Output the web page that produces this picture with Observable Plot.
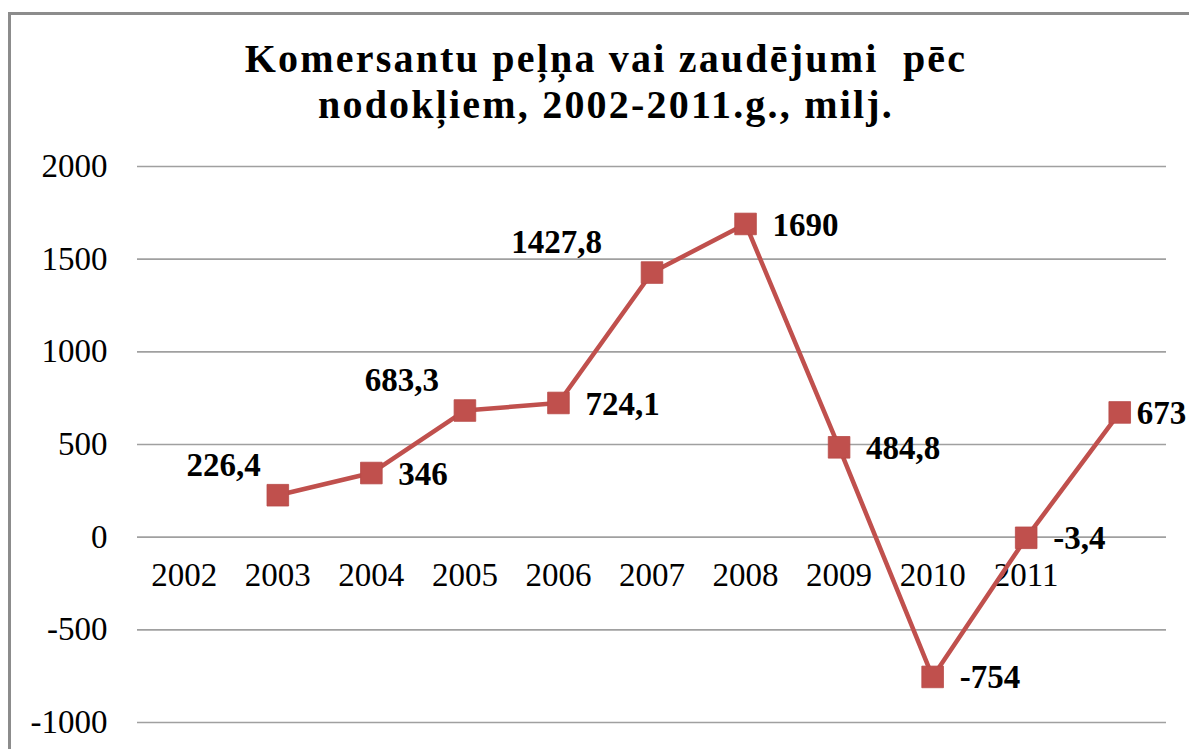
<!DOCTYPE html>
<html>
<head>
<meta charset="utf-8">
<script src="https://cdn.jsdelivr.net/npm/d3@7"></script>
<script src="https://cdn.jsdelivr.net/npm/@observablehq/plot@0.6"></script>
<style>
  html, body { margin: 0; padding: 0; background: #fff; }
  body { width: 1189px; height: 749px; position: relative; overflow: hidden; font-family: "Liberation Serif", "Times New Roman", serif; }
  #frame { position: absolute; left: 8px; top: 12px; width: 1300px; height: 800px; border-left: 3px solid #8c8c8c; border-top: 3px solid #8c8c8c; }
  #title { position: absolute; left: 0; top: 36px; width: 1212px; text-align: center; font-family: "Liberation Serif", serif; font-weight: bold; font-size: 40px; letter-spacing: 2.2px; line-height: 46px; color: #000; white-space: pre; }
  #chart { position: absolute; left: 0; top: 0; }
</style>
</head>
<body>
<div id="frame"></div>
<div id="title">Komersantu peļņa vai zaudējumi  pēc
nodokļiem, 2002-2011.g., milj.</div>
<div id="chart"></div>
<script>
const years = ["2002", "2003", "2004", "2005", "2006", "2007", "2008", "2009", "2010", "2011"];
const values = [226.4, 346, 683.3, 724.1, 1427.8, 1690, 484.8, -754, -3.4, 673];
const yTicks = [-1000, -500, 0, 500, 1000, 1500, 2000];

// In the original chart each marker sits one category slot to the right of its year label
const data = years.map((year, i) => ({ year, slot: i + 1, value: values[i], label: String(values[i]).replace(".", ",") }));
const labelFont = "'Liberation Serif', 'Times New Roman', serif";
const red = "#C0504D";

const labelStyle = { x: "slot", y: "value", text: "label", fontSize: 33, fontFamily: labelFont, fontWeight: "bold", fill: "#000" };
const leftLabel = (year, dx) => Plot.text(data.filter(d => d.year === year), { ...labelStyle, textAnchor: "end", dx, dy: -30 });
const leftYears = ["2002", "2004", "2006"];

const chart = Plot.plot({
  width: 1189,
  height: 749,
  marginLeft: 137,
  marginRight: 23,
  marginTop: 166,
  marginBottom: 27,
  style: { background: "transparent", fontFamily: labelFont, color: "#000" },
  x: { type: "linear", domain: [-0.5, years.length + 0.5], axis: null },
  y: { domain: [-1000, 2000], ticks: yTicks, tickSize: 0, tickPadding: 30, label: null, tickFormat: d => String(d) },
  marks: [
    Plot.ruleY(yTicks, { stroke: "#a0a0a0", strokeWidth: 1.6 }),
    Plot.axisY({ ticks: yTicks, tickSize: 0, tickPadding: 30, label: null, fontSize: 33, fontFamily: labelFont, tickFormat: d => String(d) }),
    Plot.text(years, { x: (d, i) => i, y: 0, dy: 38, text: d => d, fontSize: 33, fontFamily: labelFont, fill: "#000" }),
    Plot.line(data, { x: "slot", y: "value", stroke: red, strokeWidth: 4.5 }),
    Plot.dot(data, { x: "slot", y: "value", symbol: "square", r: 12.2, fill: red, stroke: "#b84a47", strokeWidth: 0.8 }),
    leftLabel("2002", -17),
    leftLabel("2004", -26),
    leftLabel("2006", -50),
    Plot.text(data.filter(d => !leftYears.includes(d.year) && d.slot < years.length), { ...labelStyle, textAnchor: "start", dx: 27, dy: 1 }),
    Plot.text(data.filter(d => d.slot === years.length), { ...labelStyle, textAnchor: "start", dx: 17, dy: 1 })
  ]
});
document.getElementById("chart").appendChild(chart);
</script>
</body>
</html>
